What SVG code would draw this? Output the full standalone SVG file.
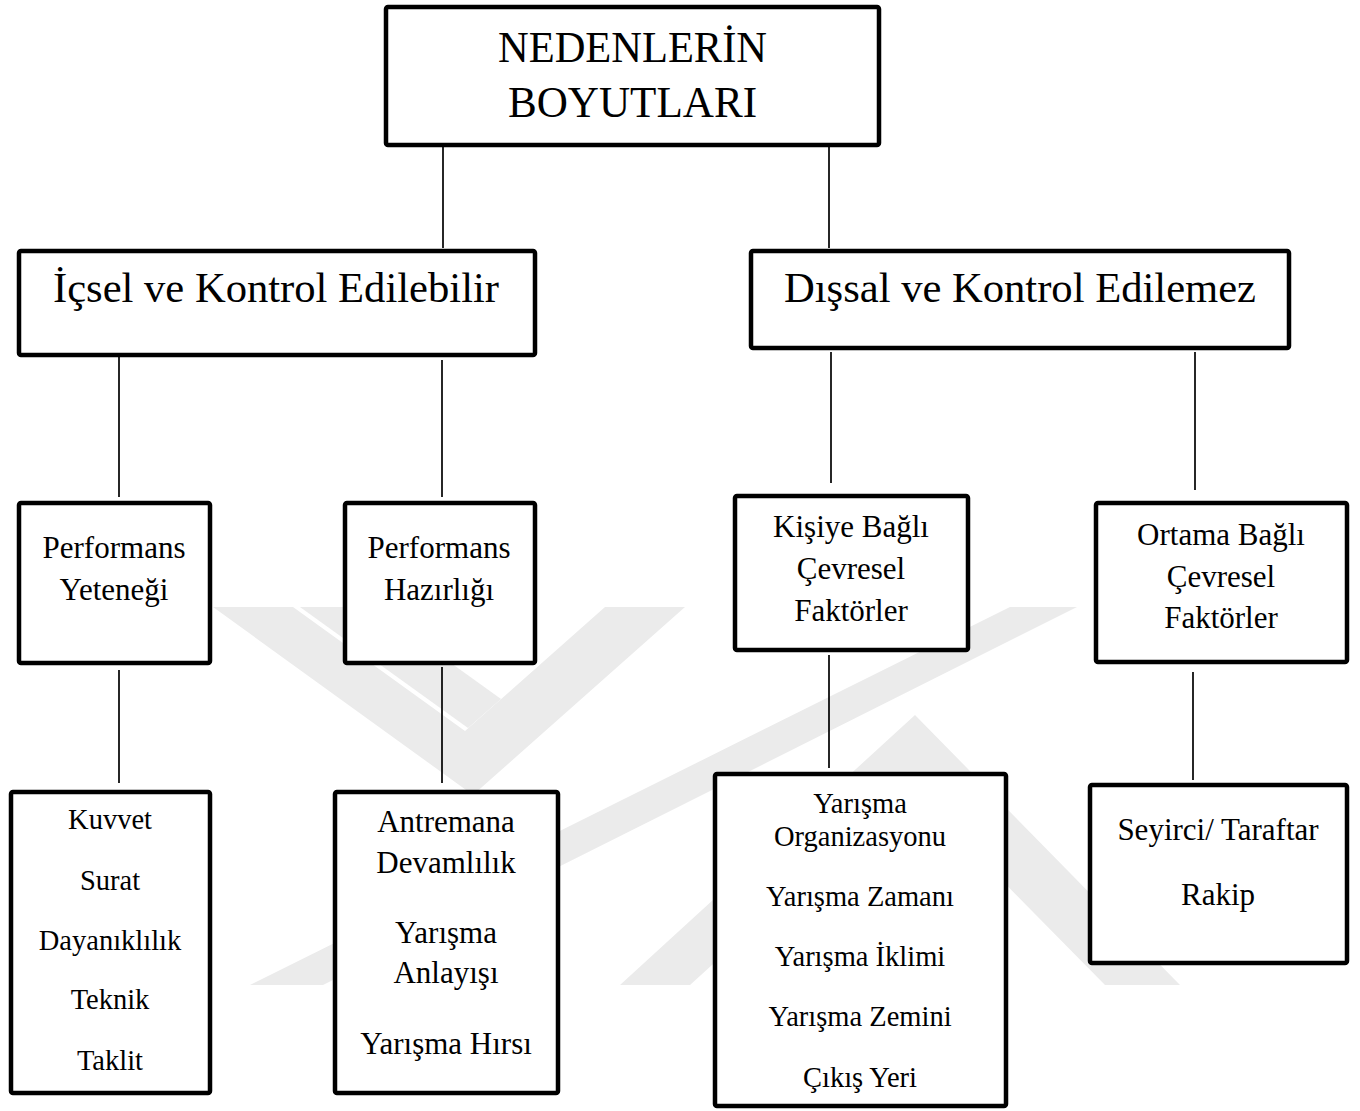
<svg xmlns="http://www.w3.org/2000/svg" width="1360" height="1111" viewBox="0 0 1360 1111">
<style>
.box{fill:#fff;stroke:#000;stroke-width:4.5;stroke-linejoin:round}
.wm{fill:#ebebeb}
.ln{stroke:#000;stroke-width:1.7;fill:none}
text{font-family:"Liberation Serif","Times New Roman",serif;fill:#000;text-anchor:middle}
.t1{font-size:45px}
.t2{font-size:42px}
.t3{font-size:31px}
.t4{font-size:28.5px}
</style>
<rect width="1360" height="1111" fill="#fff"/>
<g id="watermark">
<polygon class="wm" points="213,607 293,607 465,731 605,607 685,607 473,795"/>
<polygon class="wm" points="300,607 373,607 501,699 468,728"/>
<polygon class="wm" points="250,985 323,985 1077,607 1010,607"/>
<polygon class="wm" points="620,985 915,715 1180,985 1105,985 909,786 690,985"/>
</g>
<g id="connectors">
<line class="ln" x1="443" y1="147" x2="443" y2="248"/>
<line class="ln" x1="829" y1="147" x2="829" y2="248"/>
<line class="ln" x1="119" y1="357" x2="119" y2="497"/>
<line class="ln" x1="442" y1="360" x2="442" y2="497"/>
<line class="ln" x1="831" y1="352" x2="831" y2="483"/>
<line class="ln" x1="1195" y1="352" x2="1195" y2="490"/>
<line class="ln" x1="119" y1="670" x2="119" y2="783"/>
<line class="ln" x1="442" y1="667" x2="442" y2="783"/>
<line class="ln" x1="829" y1="655" x2="829" y2="768"/>
<line class="ln" x1="1193" y1="672" x2="1193" y2="780"/>
</g>
<g id="root">
<rect class="box" x="386" y="7" width="493" height="138" rx="2"/>
<text class="t1" x="632.5" y="62" textLength="269" lengthAdjust="spacingAndGlyphs">NEDENLERİN</text>
<text class="t1" x="632.5" y="117" textLength="249" lengthAdjust="spacingAndGlyphs">BOYUTLARI</text>
</g>
<g id="icsel">
<rect class="box" x="19" y="251" width="516" height="104" rx="2"/>
<text class="t2" x="276" y="302" textLength="446" lengthAdjust="spacingAndGlyphs">İçsel ve Kontrol Edilebilir</text>
</g>
<g id="dissal">
<rect class="box" x="751" y="251" width="538" height="97" rx="2"/>
<text class="t2" x="1020" y="302" textLength="472" lengthAdjust="spacingAndGlyphs">Dışsal ve Kontrol Edilemez</text>
</g>
<g id="perf-yetenek">
<rect class="box" x="19" y="503" width="191" height="160" rx="2"/>
<text class="t3" x="114" y="558">Performans</text>
<text class="t3" x="114" y="600">Yeteneği</text>
</g>
<g id="perf-hazirlik">
<rect class="box" x="345" y="503" width="190" height="160" rx="2"/>
<text class="t3" x="439" y="558">Performans</text>
<text class="t3" x="439" y="600">Hazırlığı</text>
</g>
<g id="kisiye-bagli">
<rect class="box" x="735" y="496" width="233" height="154" rx="2"/>
<text class="t3" x="851" y="537">Kişiye Bağlı</text>
<text class="t3" x="851" y="579">Çevresel</text>
<text class="t3" x="851" y="621">Faktörler</text>
</g>
<g id="ortama-bagli">
<rect class="box" x="1096" y="503" width="251" height="159" rx="2"/>
<text class="t3" x="1221" y="545">Ortama Bağlı</text>
<text class="t3" x="1221" y="587">Çevresel</text>
<text class="t3" x="1221" y="628">Faktörler</text>
</g>
<g id="yetenek-liste">
<rect class="box" x="11" y="792" width="199" height="301" rx="2"/>
<text class="t4" x="110" y="829">Kuvvet</text>
<text class="t4" x="110" y="890">Surat</text>
<text class="t4" x="110" y="950">Dayanıklılık</text>
<text class="t4" x="110" y="1009">Teknik</text>
<text class="t4" x="110" y="1070">Taklit</text>
</g>
<g id="hazirlik-liste">
<rect class="box" x="335" y="792" width="223" height="301" rx="2"/>
<text class="t3" x="446" y="832">Antremana</text>
<text class="t3" x="446" y="873">Devamlılık</text>
<text class="t3" x="446" y="943">Yarışma</text>
<text class="t3" x="446" y="983">Anlayışı</text>
<text class="t3" x="446" y="1054">Yarışma Hırsı</text>
</g>
<g id="kisiye-liste">
<rect class="box" x="715" y="774" width="291" height="332" rx="2"/>
<text class="t4" x="860" y="813">Yarışma</text>
<text class="t4" x="860" y="846">Organizasyonu</text>
<text class="t4" x="860" y="906">Yarışma Zamanı</text>
<text class="t4" x="860" y="966">Yarışma İklimi</text>
<text class="t4" x="860" y="1026">Yarışma Zemini</text>
<text class="t4" x="860" y="1087">Çıkış Yeri</text>
</g>
<g id="ortama-liste">
<rect class="box" x="1090" y="785" width="257" height="178" rx="2"/>
<text class="t3" x="1218" y="840">Seyirci/ Taraftar</text>
<text class="t3" x="1218" y="905">Rakip</text>
</g>
</svg>
